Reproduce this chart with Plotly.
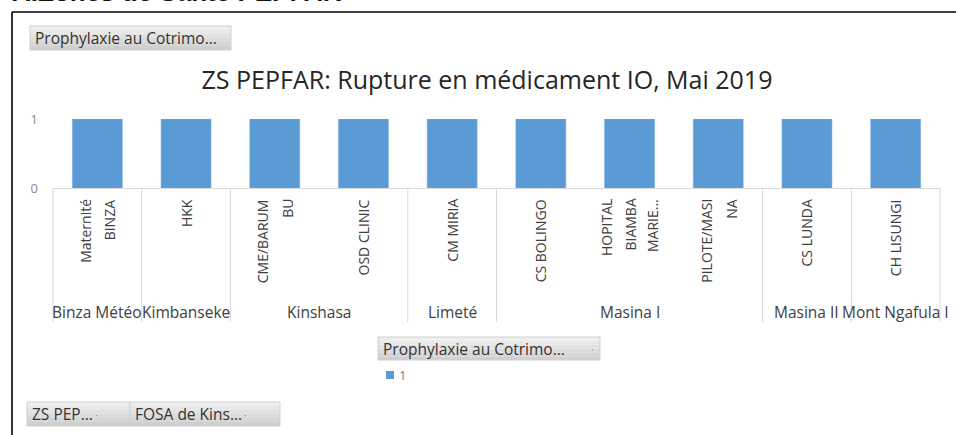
import plotly.graph_objects as go

# ---------------- data ----------------
facilities = ["Maternité BINZA", "HKK", "CME/BARUMBU", "OSD CLINIC", "CM MIRIA",
              "CS BOLINGO", "HOPITAL BIAMBA MARIE", "PILOTE/MASINA", "CS LUNDA", "CH LISUNGI"]
facility_label_lines = [["Maternité", "BINZA"], ["HKK"], ["CME/BARUM", "BU"], ["OSD CLINIC"],
                        ["CM MIRIA"], ["CS BOLINGO"], ["HOPITAL", "BIAMBA", "MARIE..."],
                        ["PILOTE/MASI", "NA"], ["CS LUNDA"], ["CH LISUNGI"]]
zones = ["Binza Météo", "Kimbanseke", "Kinshasa", "Kinshasa", "Limeté",
         "Masina I", "Masina I", "Masina I", "Masina II", "Mont Ngafula I"]
ruptures = [1, 1, 1, 1, 1, 1, 1, 1, 1, 1]
y_tick_values = [0, 1]
series_name = "1"
chart_title = "ZS PEPFAR: Rupture en médicament IO, Mai 2019"
sheet_heading = "A.Zones de Santé PEPFAR"
filter_button = "Prophylaxie au Cotrimo..."
bottom_buttons = ["ZS PEP...", "FOSA de Kins..."]

# ---------------- layout geometry (pixels) ----------------
W, H = 956, 435
L, R, T, B = 53, 16, 119, 247
PW, PH = W - L - R, H - T - B
BAR_COLOR = "#5B9BD5"
FONT = "Open Sans"


def px(x):
    return (x - L) / PW


def py(y):
    return (H - B - y) / PH


n = len(facilities)
fig = go.Figure()
fig.add_trace(go.Bar(x=facilities, y=ruptures, name=series_name,
                     marker=dict(color=BAR_COLOR, line=dict(color="#6FA8DC", width=0.5)),
                     showlegend=False))

shapes = []
annotations = []

# chart frame (black border, cut by the page edges)
shapes.append(dict(type="line", xref="paper", yref="paper", x0=px(12), x1=px(W + 5),
                   y0=py(12), y1=py(12), line=dict(color="#000000", width=1.6)))
shapes.append(dict(type="line", xref="paper", yref="paper", x0=px(12), x1=px(12),
                   y0=py(12), y1=py(H + 5), line=dict(color="#000000", width=1.6)))

# sheet heading cut off at the top (as in the source screenshot)
annotations.append(dict(text="<b>" + sheet_heading + "</b>", xref="paper", yref="paper",
                        x=px(10), y=py(9), xanchor="left", yanchor="bottom", showarrow=False,
                        font=dict(family="Liberation Sans", size=26, color="#111111")))


def button(x0, x1, y0, y1, label, dot=None):
    bands = 6
    for i in range(bands):
        c = 238 - i * 6
        ya = y0 + (y1 - y0) * i / bands
        yb = y0 + (y1 - y0) * (i + 1) / bands
        shapes.append(dict(type="rect", xref="paper", yref="paper", x0=px(x0), x1=px(x1),
                           y0=py(ya), y1=py(yb), line=dict(width=0),
                           fillcolor=f"rgb({c},{c},{c})", layer="above"))
    shapes.append(dict(type="rect", xref="paper", yref="paper", x0=px(x0), x1=px(x1),
                       y0=py(y0), y1=py(y1), line=dict(color="#cfcfcf", width=1),
                       fillcolor="rgba(0,0,0,0)", layer="above"))
    annotations.append(dict(text=label, xref="paper", yref="paper", x=px(x0 + 3),
                            y=py((y0 + y1) / 2), xanchor="left", yanchor="middle",
                            showarrow=False, font=dict(family=FONT, size=15.5, color="#333333")))
    if dot is not None:
        annotations.append(dict(text="·", xref="paper", yref="paper", x=px(dot),
                                y=py((y0 + y1) / 2), xanchor="center", yanchor="middle",
                                showarrow=False, font=dict(family=FONT, size=11, color="#888888")))


button(30, 231, 26, 50, filter_button)
button(378, 600, 337, 360, filter_button, dot=592)
button(27, 130, 402, 426, bottom_buttons[0], dot=96)
button(130, 280, 402, 426, bottom_buttons[1], dot=245)

# manual legend entry
shapes.append(dict(type="rect", xref="paper", yref="paper", x0=px(386), x1=px(394),
                   y0=py(371), y1=py(379), fillcolor=BAR_COLOR, line=dict(width=0)))
annotations.append(dict(text=series_name, xref="paper", yref="paper", x=px(397), y=py(375),
                        xanchor="left", yanchor="middle", showarrow=False,
                        font=dict(family=FONT, size=13, color="#7f7f7f")))

# facility labels (rotated, right-aligned so that they hang from the axis)
for fac, lines in zip(facilities, facility_label_lines):
    k = len(lines)
    gap = 25 if k < 3 else 23
    for j, line in enumerate(lines):
        annotations.append(dict(text=line, xref="x", yref="paper", x=fac, y=py(197),
                                xshift=(j - (k - 1) / 2) * gap,
                                xanchor="center", yanchor="top", textangle=-90,
                                showarrow=False,
                                font=dict(family=FONT, size=14, color="#404040")))

# zone groups: labels + separator lines
groups = []
for i, z in enumerate(zones):
    if groups and groups[-1][0] == z:
        groups[-1][2] = i
    else:
        groups.append([z, i, i])
bounds = sorted({g[1] for g in groups} | {g[2] + 1 for g in groups})
for bnd in bounds:
    shapes.append(dict(type="line", xref="x domain", yref="paper", x0=bnd / n, x1=bnd / n,
                       y0=py(188), y1=py(322), line=dict(color="#d9d9d9", width=1)))
for z, a, b in groups:
    annotations.append(dict(text=z, xref="x domain", yref="paper", x=((a + b) / 2 + 0.5) / n,
                            y=py(312), xanchor="center", yanchor="middle", showarrow=False,
                            font=dict(family=FONT, size=15.5, color="#404040")))

fig.update_layout(
    width=W, height=H,
    margin=dict(l=L, r=R, t=T, b=B),
    paper_bgcolor="white", plot_bgcolor="white",
    bargap=0.437,
    title=dict(text=chart_title, xref="container", yref="container", x=487 / W, y=1 - 80 / H,
               xanchor="center", yanchor="middle",
               font=dict(family=FONT, size=25, color="#262626")),
    xaxis=dict(type="category", showticklabels=False, ticks="", showgrid=False,
               showline=True, linecolor="#d9d9d9", linewidth=1, zeroline=False,
               range=[-0.5, n - 0.5]),
    yaxis=dict(range=[0, 1], tickvals=y_tick_values, ticks="", showgrid=True,
               gridcolor="#d9d9d9", gridwidth=1, zeroline=False, showline=False,
               ticklabelstandoff=14,
               tickfont=dict(family=FONT, size=13, color="#8c8c8c")),
    shapes=shapes,
    annotations=annotations,
    showlegend=False,
)

fig.write_html("out.html", config={"displayModeBar": False},
               post_script="document.body.style.margin='0px';document.body.style.overflow='hidden';")
